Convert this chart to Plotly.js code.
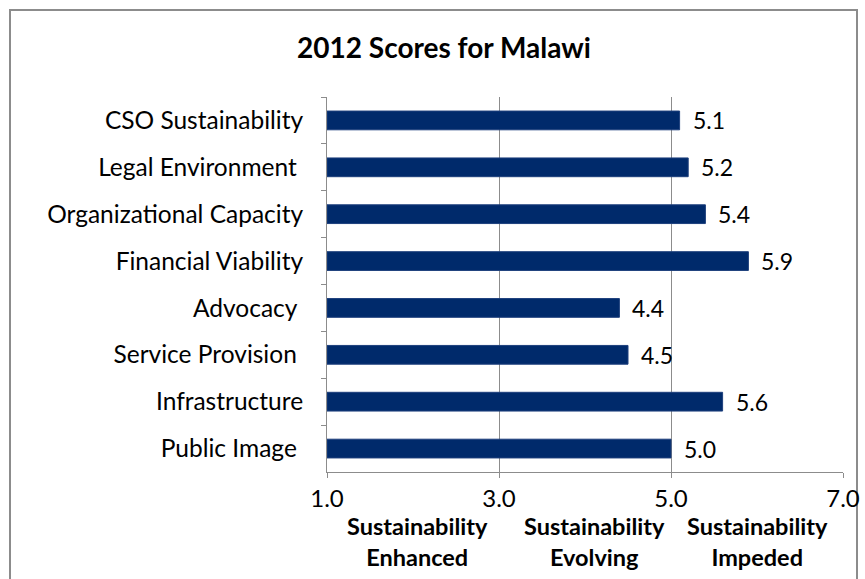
<!DOCTYPE html>
<html>
<head>
<meta charset="utf-8">
<script src="https://cdn.plot.ly/plotly-3.0.1.min.js"></script>
<style>html,body{margin:0;padding:0;background:#fff;}#chart{width:865px;height:579px;}</style>
</head>
<body>
<div id="chart"></div>
<script>
const categories = ["CSO Sustainability", "Legal Environment\u00a0", "Organizational Capacity", "Financial Viability", "Advocacy\u00a0", "Service Provision\u00a0", "Infrastructure", "Public Image\u00a0"];
const scores = [5.1, 5.2, 5.4, 5.9, 4.4, 4.5, 5.6, 5.0];
const tickValues = [1, 3, 5, 7];
const tickLabels = ["1.0", "3.0", "5.0", "7.0"];
const zoneCenters = [2, 4, 6];
const zoneLabels = ["Sustainability<br>Enhanced", "Sustainability<br>Evolving", "Sustainability<br>Impeded"];
const zoneShifts = [4, 9, 0];

const FONT = "Lato, 'Open Sans', sans-serif";
const base = 1;

const trace = {
  type: "bar",
  orientation: "h",
  y: categories,
  x: scores.map(v => v - base),
  base: base,
  marker: {color: "#002a6b", line: {color: "#1d3f7c", width: 1}},
  hoverinfo: "skip"
};

const annotations = [];
categories.forEach((c, i) => {
  annotations.push({
    x: scores[i], y: c, xref: "x", yref: "y",
    text: scores[i].toFixed(1), showarrow: false,
    xanchor: "left", xshift: 11,
    font: {family: FONT, size: 23, color: "#000"}
  });
});
zoneCenters.forEach((z, i) => {
  annotations.push({
    x: z, y: -(541.5 - 472) / 375, xref: "x", yref: "paper",
    xshift: zoneShifts[i],
    text: "<b>" + zoneLabels[i] + "</b>", showarrow: false,
    yanchor: "middle", align: "center",
    font: {family: FONT, size: 23.5, color: "#000"}
  });
});

const layout = {
  width: 865, height: 579,
  margin: {l: 327, r: 22, t: 97, b: 107},
  paper_bgcolor: "#fff", plot_bgcolor: "#fff",
  showlegend: false,
  bargap: 0.6,
  title: {
    text: "<b>2012 Scores for Malawi</b>",
    x: 444 / 865, xanchor: "center", xref: "container",
    y: 1 - 48 / 579, yanchor: "middle", yref: "container",
    font: {family: FONT, size: 28, color: "#000"}
  },
  xaxis: {
    range: [1, 7], tickvals: tickValues, ticktext: tickLabels,
    showgrid: true, gridcolor: "#8c8c8c", gridwidth: 1,
    showline: true, linecolor: "#8c8c8c", linewidth: 1,
    ticks: "outside", ticklen: 5, tickcolor: "#8c8c8c",
    zeroline: false,
    tickfont: {family: FONT, size: 24, color: "#000"},
    fixedrange: true
  },
  yaxis: {
    autorange: "reversed", type: "category",
    showgrid: false, showline: true, linecolor: "#8c8c8c", linewidth: 1,
    ticks: "outside", ticklen: 5, tickcolor: "#8c8c8c", tickson: "boundaries",
    ticklabelstandoff: 18,
    tickfont: {family: FONT, size: 24.5, color: "#000"},
    fixedrange: true
  },
  shapes: [{
    type: "rect", xref: "paper", yref: "paper",
    x0: (10 - 327) / 516, x1: (857 - 327) / 516,
    y0: (472 - 600) / 375, y1: (472 - 10) / 375,
    line: {color: "#8c8c8c", width: 2}, fillcolor: "rgba(0,0,0,0)", layer: "below"
  }],
  annotations: annotations
};

Plotly.newPlot("chart", [trace], layout, {displayModeBar: false, staticPlot: true});
</script>
</body>
</html>
